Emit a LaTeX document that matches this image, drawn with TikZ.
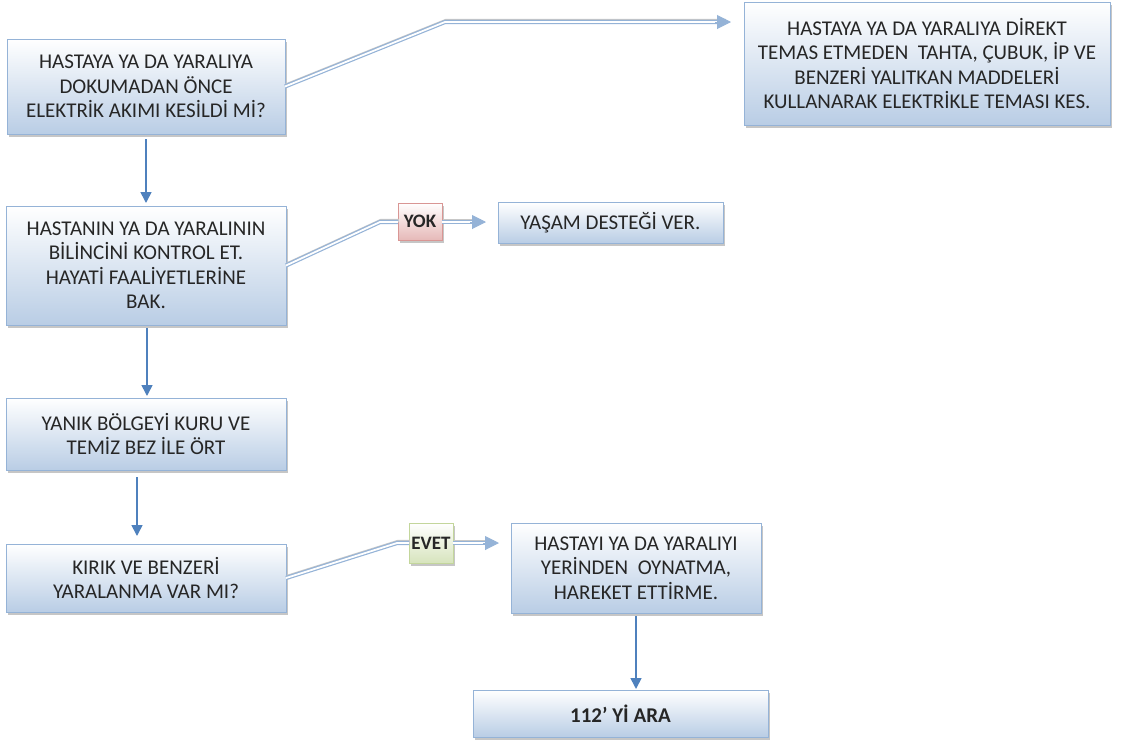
\documentclass[tikz,border=0pt]{standalone}
\usepackage{fontspec}
\setmainfont{Carlito}
\usetikzlibrary{arrows.meta,shadows}
\definecolor{kenar}{HTML}{95B3D7}
\definecolor{kutualt}{HTML}{B9CDE5}
\definecolor{okmavi}{HTML}{4F81BD}
\definecolor{ciftmavi}{HTML}{95B3D7}
\definecolor{yokalt}{HTML}{E6B9B8}
\definecolor{yokkenar}{HTML}{D99694}
\definecolor{evetalt}{HTML}{D7E4BD}
\definecolor{evetkenar}{HTML}{C3D69B}
\begin{document}
\begin{tikzpicture}[x=1pt,y=-1pt,
  kutu/.style={draw=kenar, line width=0.8pt, top color=white, bottom color=kutualt,
    drop shadow={shadow xshift=2pt, shadow yshift=-3pt, opacity=0.45},
    anchor=north west, align=center, inner sep=2pt, outer sep=0pt, text=black!85,
    font=\fontsize{21}{24.5}\selectfont},
  etiket/.style={kutu, font=\fontsize{19}{22}\selectfont\bfseries},
  akis/.style={draw=okmavi, line width=1.6pt, -{Triangle[length=11pt,width=11pt]}},
  cift/.style={draw=ciftmavi, line width=1.2pt, double=white, double distance=1.8pt,
    preaction={draw=black!22, line width=3pt, transform canvas={shift={(0.8pt,1.6pt)}}}},
  ucu/.style={draw=ciftmavi, line width=1pt, -{Triangle[length=14pt,width=14pt]}}]
\useasboundingbox (0,0) rectangle (1121,742);
% kutular
\node[kutu, minimum width=278pt, minimum height=95pt] (akim) at (7,39)
  {HASTAYA YA DA YARALIYA\\DOKUMADAN ÖNCE\\ELEKTRİK AKIMI KESİLDİ Mİ?};
\node[kutu, minimum width=366pt, minimum height=123pt] (kes) at (744,2)
  {HASTAYA YA DA YARALIYA DİREKT\\TEMAS ETMEDEN\ \ TAHTA, ÇUBUK, İP VE\\BENZERİ YALITKAN MADDELERİ\\KULLANARAK ELEKTRİKLE TEMASI KES.};
\node[kutu, minimum width=280pt, minimum height=119pt] (bilinc) at (6,206)
  {HASTANIN YA DA YARALININ\\BİLİNCİNİ KONTROL ET.\\HAYATİ FAALİYETLERİNE\\BAK.};
\node[kutu, minimum width=280pt, minimum height=72pt] (yanik) at (6,398)
  {YANIK BÖLGEYİ KURU VE\\TEMİZ BEZ İLE ÖRT};
\node[kutu, minimum width=280pt, minimum height=68pt] (kirik) at (6,544)
  {KIRIK VE BENZERİ\\YARALANMA VAR MI?};
\node[kutu, minimum width=225pt, minimum height=41pt] (destek) at (498,202)
  {YAŞAM DESTEĞİ VER.};
\node[etiket, top color=white, bottom color=yokalt, draw=yokkenar,
  minimum width=44pt, minimum height=37pt] (yok) at (398,203) {YOK};
\node[etiket, top color=white, bottom color=evetalt, draw=evetkenar,
  minimum width=44pt, minimum height=40pt] (evet) at (409,523) {EVET};
\node[kutu, minimum width=250pt, minimum height=90pt] (oynatma) at (511,523)
  {HASTAYI YA DA YARALIYI\\YERİNDEN\ \ OYNATMA,\\HAREKET ETTİRME.};
\node[kutu, minimum width=295pt, minimum height=47pt, font=\fontsize{21}{24}\selectfont\bfseries] (ara) at (473,690)
  {112’ Yİ ARA};
% baglantilar
\coordinate (k1) at (445,22);
\coordinate (k1u) at (731,22);
\coordinate (k2) at (380,222);
\coordinate (k2u) at (486,222);
\coordinate (k3) at (397,543);
\coordinate (k3u) at (499,543);
\draw[cift] (akim.east) -- (k1) -- ([xshift=-6pt]k1u);
\draw[ucu] ([xshift=-16pt]k1u) -- (k1u);
\draw[cift] (bilinc.east) -- (k2) -- (yok.west |- k2);
\draw[cift] (yok.east |- k2) -- ([xshift=-6pt]k2u);
\draw[ucu] ([xshift=-16pt]k2u) -- (k2u);
\draw[cift] (kirik.east) -- (k3) -- (evet.west |- k3);
\draw[cift] (evet.east |- k3) -- ([xshift=-6pt]k3u);
\draw[ucu] ([xshift=-16pt]k3u) -- (k3u);
\draw[akis, shorten <=5pt, shorten >=3pt] (akim.south) -- (akim.south |- bilinc.north);
\draw[akis, shorten <=3pt, shorten >=2pt] (bilinc.south) ++(1,0) -- ([xshift=1pt]yanik.north);
\draw[akis, shorten <=7pt, shorten >=8pt] ([xshift=-9pt]yanik.south) -- ([xshift=-9pt]kirik.north);
\draw[akis, shorten <=3pt, shorten >=1pt] (oynatma.south) -- (oynatma.south |- ara.north);
\end{tikzpicture}
\end{document}
